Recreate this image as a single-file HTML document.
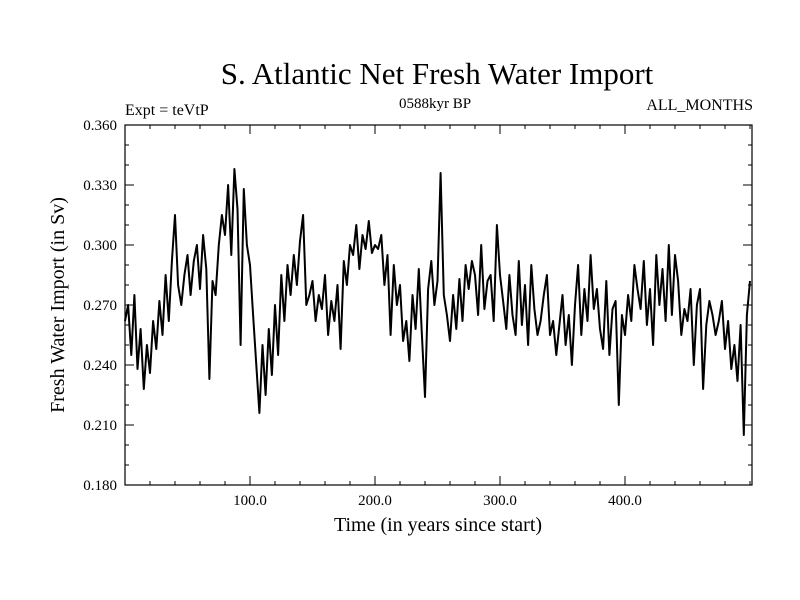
<!DOCTYPE html>
<html><head><meta charset="utf-8"><style>
body{margin:0;background:#fff;}
svg{display:block;font-family:"Liberation Serif",serif;}
</style></head><body>
<svg id="chart" width="800" height="600">
<text x="437" y="84" font-size="31" text-anchor="middle">S. Atlantic Net Fresh Water Import</text>
<text x="125" y="115" font-size="16">Expt = teVtP</text>
<text x="435" y="108" font-size="15" text-anchor="middle">0588kyr BP</text>
<text x="753" y="110" font-size="16" text-anchor="end">ALL_MONTHS</text>
<text x="64" y="305" font-size="20" text-anchor="middle" transform="rotate(-90 64 305)">Fresh Water Import (in Sv)</text>
<text x="438" y="531" font-size="20" text-anchor="middle">Time (in years since start)</text>
<g id="ticks"></g>
<path id="series" fill="none" stroke="#000" stroke-width="2" stroke-linejoin="round"></path>
<rect x="125" y="125" width="627" height="360" fill="none" stroke="#000" stroke-width="1.2"></rect>
</svg>
<script>
const yTicks = [0.180, 0.210, 0.240, 0.270, 0.300, 0.330, 0.360];
const xTicks = [100, 200, 300, 400];
const xStep = 2.5;
const values = [
.262,.270,.245,.275,.238,.258,.228,.250,.236,.262,
.248,.272,.255,.285,.262,.292,.315,.280,.270,.285,
.295,.275,.292,.300,.278,.305,.288,.233,.282,.275,
.300,.315,.305,.330,.295,.338,.318,.250,.328,.300,
.290,.265,.240,.216,.250,.225,.258,.235,.270,.245,
.285,.262,.290,.275,.295,.280,.302,.315,.270,.275,
.282,.262,.275,.268,.285,.255,.272,.262,.280,.248,
.292,.280,.300,.295,.310,.288,.305,.298,.312,.296,
.300,.298,.305,.280,.295,.255,.290,.270,.280,.252,
.262,.242,.275,.258,.288,.255,.224,.278,.292,.270,
.282,.336,.275,.265,.252,.275,.258,.283,.262,.290,
.278,.292,.285,.265,.300,.268,.282,.285,.262,.310,
.285,.272,.258,.285,.265,.255,.292,.260,.280,.250,
.290,.268,.255,.262,.275,.285,.255,.262,.245,.260,
.275,.250,.265,.240,.270,.290,.255,.278,.262,.295,
.268,.278,.258,.248,.282,.245,.268,.272,.220,.265,
.255,.275,.262,.290,.278,.268,.292,.260,.278,.250,
.295,.270,.288,.262,.300,.265,.295,.282,.255,.268,
.262,.278,.240,.270,.278,.228,.260,.272,.265,.255,
.262,.272,.248,.262,.238,.250,.232,.260,.205,.265,
.282];
const X0=125,X1=752,Y0=485,Y1=125,xMin=0,xMax=501.6,yMin=0.18,yMax=0.36;
const sx=v=>X0+(v-xMin)/(xMax-xMin)*(X1-X0);
const sy=v=>Y0-(v-yMin)/(yMax-yMin)*(Y0-Y1);
const NS="http://www.w3.org/2000/svg";
const g=document.getElementById('ticks');
function line(x1,y1,x2,y2){const l=document.createElementNS(NS,'line');l.setAttribute('x1',x1);l.setAttribute('y1',y1);l.setAttribute('x2',x2);l.setAttribute('y2',y2);l.setAttribute('stroke','#000');l.setAttribute('stroke-width','1');


g.appendChild(l);}
function text(x,y,s,anchor){const t=document.createElementNS(NS,'text');t.setAttribute('x',x);t.setAttribute('y',y);t.setAttribute('font-size','15');t.setAttribute('text-anchor',anchor);t.textContent=s;


g.appendChild(t);}
for(let v=yMin;v<=yMax+1e-9;v+=0.01){const y=sy(v);line(X0,y,X0+4,y);line(X1,y,X1-4,y);}
yTicks.forEach(v=>{const y=sy(v);line(X0,y,X0+9,y);line(X1,y,X1-9,y);text(117,y+5,v.toFixed(3),'end');});
for(let v=20;v<xMax;v+=20){const x=sx(v);line(x,Y0,x,Y0-4);line(x,Y1,x,Y1+4);}
xTicks.forEach(v=>{const x=sx(v);line(x,Y0,x,Y0-9);line(x,Y1,x,Y1+9);text(x,505,v.toFixed(1),'middle');});
document.getElementById('series').setAttribute('d',values.map((v,i)=>(i?'L':'M')+sx(i*xStep).toFixed(1)+','+sy(v).toFixed(1)).join(''));
</script>
</body></html>
